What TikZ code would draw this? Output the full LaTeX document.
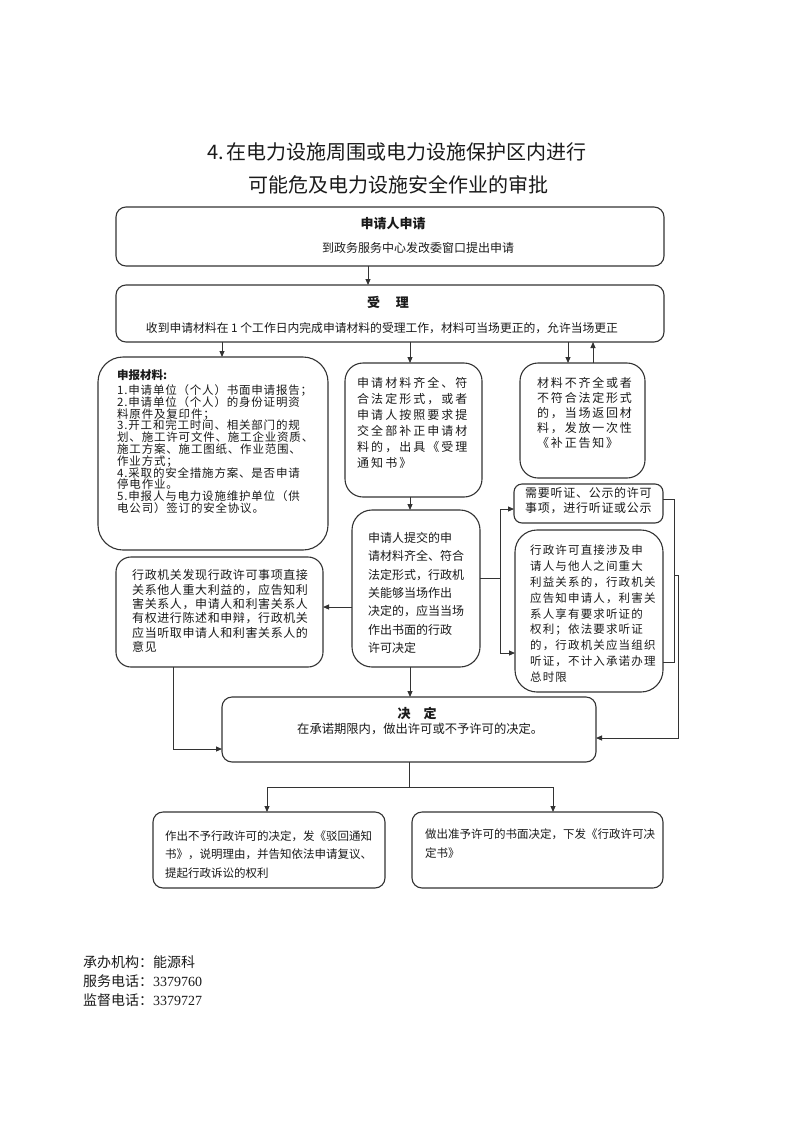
\documentclass[tikz,border=0pt]{standalone}
\usepackage{fontspec}
\usetikzlibrary{arrows.meta,calc}
\setmainfont{Noto Sans CJK SC}
\newfontfamily\cjk{Noto Sans CJK SC}
\newfontfamily\cjkA{Noto Sans CJK SC}[LetterSpace=7]
\newfontfamily\cjkB{Noto Sans CJK SC}[LetterSpace=17]
\newfontfamily\cjkC{Noto Sans CJK SC}[LetterSpace=15]
\newfontfamily\cjkD{Noto Sans CJK SC}[LetterSpace=6]
\newfontfamily\cjkE{Noto Sans CJK SC}[LetterSpace=10]
\newfontfamily\cjkF{Noto Sans CJK SC}[LetterSpace=5]
\newfontfamily\digitfont{Liberation Serif}
\definecolor{linec}{HTML}{333333}
\definecolor{textc}{HTML}{1A1A1A}
\newcommand\tlines[6]{%
  \foreach \t [count=\i from 0] in {#6}{%
    \node[txt, font=#2] (#1\i) at (#3,{#4+\i*#5}) {\t};}}
\begin{document}
\begin{tikzpicture}[x=1pt,y=-1pt,
  box/.style={draw=linec, line width=1.1pt, inner sep=0pt, outer sep=0pt},
  arr/.style={draw=linec, line width=0.9pt, -{Triangle[length=6pt,width=5pt]}},
  ln/.style={draw=linec, line width=0.9pt},
  txt/.style={anchor=base west, inner sep=0pt, text=textc},
  ctxt/.style={anchor=base, inner sep=0pt, text=textc}]
\useasboundingbox (0,0) rectangle (793,1122);

% title
\node[ctxt, font=\cjk\fontsize{20}{24}\selectfont] (t1) at (397,159.6) {4.\,在电力设施周围或电力设施保护区内进行};
\node[ctxt, font=\cjk\fontsize{20}{24}\selectfont] (t2) at (398,192.6) {可能危及电力设施安全作业的审批};

% boxes
\node[box, rounded corners=10pt, minimum width=548pt, minimum height=59pt] (apply) at (390,236.5) {};
\node[box, rounded corners=10pt, minimum width=548pt, minimum height=57pt] (accept) at (390,313.5) {};
\node[box, rounded corners=25pt, minimum width=230pt, minimum height=193pt] (mat) at (213,453.5) {};
\node[box, rounded corners=18pt, minimum width=137pt, minimum height=134pt] (ok1) at (413.5,430) {};
\node[box, rounded corners=18pt, minimum width=125pt, minimum height=115pt] (bad) at (582.5,420.5) {};
\node[box, rounded corners=8pt, minimum width=149pt, minimum height=39pt] (hear) at (588.5,503.5) {};
\node[box, rounded corners=20pt, minimum width=128pt, minimum height=157pt] (ok2) at (416,588.5) {};
\node[box, rounded corners=22pt, minimum width=148pt, minimum height=162pt] (interest) at (589,611) {};
\node[box, rounded corners=15pt, minimum width=207pt, minimum height=110pt] (third) at (219.5,612) {};
\node[box, rounded corners=10pt, minimum width=374pt, minimum height=65pt] (decide) at (409,729.5) {};
\node[box, rounded corners=10pt, minimum width=232pt, minimum height=76pt] (reject) at (269,850) {};
\node[box, rounded corners=10pt, minimum width=251pt, minimum height=76pt] (grant) at (537.5,850) {};

% texts
\node[ctxt, font=\cjk\bfseries\fontsize{13}{15}\selectfont] (applyT) at (393,228) {申请人申请};
\node[ctxt, font=\cjk\fontsize{12}{14}\selectfont] (applyS) at (418,252.5) {到政务服务中心发改委窗口提出申请};
\node[ctxt, font=\cjk\bfseries\fontsize{13}{15}\selectfont] (acceptT) at (388,307) {受\hspace{1.2em}理};
\node[ctxt, font=\cjk\fontsize{11.8}{14}\selectfont] (acceptS) at (382,332.5) {收到申请材料在 1 个工作日内完成申请材料的受理工作，材料可当场更正的，允许当场更正};

\node[txt, font=\cjk\bfseries\fontsize{11.5}{13}\selectfont] (matT) at (117,379.4) {申报材料:};
\tlines{mat}{\cjkA\fontsize{11.5}{13}\selectfont}{117}{394.4}{11.8}{%
1.申请单位（个人）书面申请报告；,
2.申请单位（个人）的身份证明资,
料原件及复印件；,
3.开工和完工时间、相关部门的规,
划、施工许可文件、施工企业资质、,
施工方案、施工图纸、作业范围、,
作业方式；,
4.采取的安全措施方案、是否申请,
停电作业。,
5.申报人与电力设施维护单位（供,
电公司）签订的安全协议。}

\tlines{okA}{\cjkB\fontsize{12}{14}\selectfont}{357}{387.6}{16}{%
申请材料齐全、符,合法定形式，或者,申请人按照要求提,交全部补正申请材,料的，出具《受理,通知书》}

\tlines{badA}{\cjkC\fontsize{12}{14}\selectfont}{537}{387.6}{15}{%
材料不齐全或者,不符合法定形式,的，当场返回材,料，发放一次性,《补正告知》}

\tlines{hearA}{\cjkD\fontsize{12}{14}\selectfont}{525}{497.6}{15}{%
需要听证、公示的许可,事项，进行听证或公示}

\tlines{okB}{\cjk\fontsize{12}{14}\selectfont}{368}{542.6}{18.3}{%
申请人提交的申,请材料齐全、符合,法定形式，行政机,关能够当场作出,决定的，应当当场,作出书面的行政,许可决定}

\tlines{intA}{\cjkE\fontsize{11.5}{13}\selectfont}{530}{554.4}{15.9}{%
行政许可直接涉及申,请人与他人之间重大,利益关系的，行政机关,应告知申请人，利害关,系人享有要求听证的,权利；依法要求听证,的，行政机关应当组织,听证，不计入承诺办理,总时限}

\tlines{thA}{\cjkF\fontsize{12}{14}\selectfont}{132}{579.6}{14.4}{%
行政机关发现行政许可事项直接,关系他人重大利益的，应告知利,害关系人，申请人和利害关系人,有权进行陈述和申辩，行政机关,应当听取申请人和利害关系人的,意见}

\node[ctxt, font=\cjk\bfseries\fontsize{13}{15}\selectfont] (decT) at (417,718) {决\hspace{1em}定};
\node[txt, font=\cjk\fontsize{12.3}{14}\selectfont] (decS) at (297,733.7) {在承诺期限内，做出许可或不予许可的决定。};

\tlines{rejA}{\cjk\fontsize{11.5}{13}\selectfont}{165}{840.4}{18.5}{%
作出不予行政许可的决定，发《驳回通知,书》，说明理由，并告知依法申请复议、,提起行政诉讼的权利}

\tlines{grA}{\cjk\fontsize{11.5}{13}\selectfont}{425}{838.4}{19}{%
做出准予许可的书面决定，下发《行政许可决,定书》}

\tlines{foot}{\cjk\fontsize{14}{16}\selectfont}{83}{967.3}{19}{%
承办机构：能源科,服务电话：{\digitfont 3379760},监督电话：{\digitfont 3379727}}

% connectors
\coordinate (c368) at (368,0);
\coordinate (c222) at (222,0);
\coordinate (c410) at (410,0);
\coordinate (c568) at (568,0);
\coordinate (c593) at (593,0);
\coordinate (c607) at (0,607);
\draw[arr] (apply.south -| c368) -- (accept.north -| c368);
\draw[arr] (accept.south -| c222) -- (mat.north -| c222);
\draw[arr] (accept.south -| c410) -- (ok1.north -| c410);
\draw[arr] (accept.south -| c568) -- (bad.north -| c568);
\draw[arr] (bad.north -| c593) -- (accept.south -| c593);
\draw[arr] (ok1.south -| c410) -- (ok2.north -| c410);
\draw[arr] (ok2.west |- c607) -- (third.east |- c607);

\coordinate (fm) at (500,578);
\coordinate (f1) at (500,509);
\coordinate (f2) at (500,653);
\draw[ln] (ok2.east |- fm) -- (fm);
\draw[ln] (f1) -- (f2);
\draw[arr] (f1) -- (f1 -| hear.west);
\draw[arr] (f2) -- (f2 -| interest.west);

\coordinate (b1) at (674,499);
\coordinate (b2) at (674,662);
\coordinate (bm) at (674,575);
\coordinate (bj) at (678,575);
\coordinate (bk) at (678,738);
\draw[ln] (hear.east |- b1) -- (b1) -- (b2) -- (interest.east |- b2);
\draw[arr] (bm) -- (bj) -- (bk) -- (decide.east |- bk);

\coordinate (l1) at (173,749);
\draw[arr] (third.south -| l1) -- (l1) -- (decide.west |- l1);
\draw[arr] (ok2.south -| c410) -- (decide.north -| c410);

\coordinate (d0) at (409,787);
\coordinate (d1) at (267,787);
\coordinate (d2) at (553,787);
\draw[ln] (decide.south -| d0) -- (d0);
\draw[ln] (d1) -- (d2);
\draw[arr] (d1) -- (reject.north -| d1);
\draw[arr] (d2) -- (grant.north -| d2);
\end{tikzpicture}
\end{document}
